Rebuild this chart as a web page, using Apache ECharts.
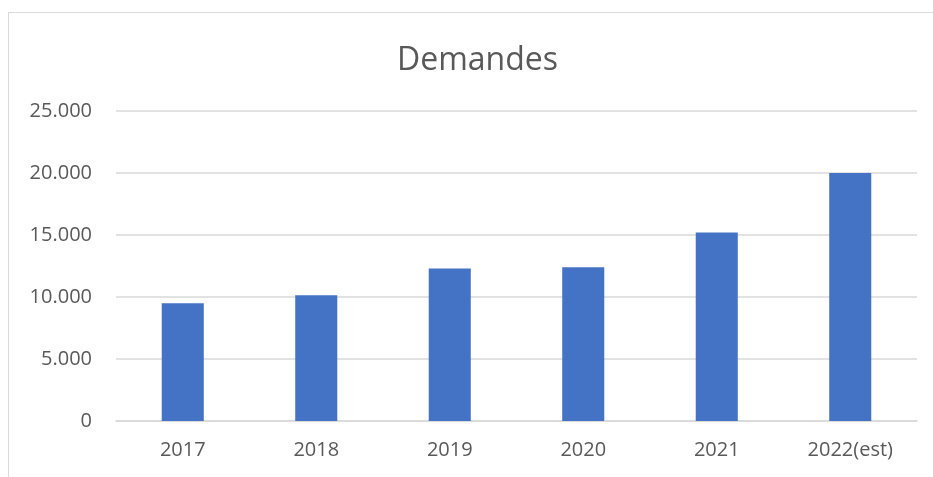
<!DOCTYPE html>
<html>
<head>
<meta charset="utf-8">
<script src="https://cdn.jsdelivr.net/npm/echarts@6/dist/echarts.min.js"></script>
<style>
  html, body { margin: 0; padding: 0; background: #fff; }
  #frame { position: absolute; left: 8px; top: 12px; width: 940px; height: 480px;
           border-left: 1px solid #d9d9d9; border-top: 1px solid #d9d9d9; }
  #container { position: absolute; left: 0; top: 0; width: 933px; height: 477px; }
</style>
</head>
<body>
<div id="frame"></div>
<div id="container"></div>
<script>
var years = ['2017', '2018', '2019', '2020', '2021', '2022(est)'];
var demandes = [9500, 10150, 12300, 12400, 15200, 20000];
var yMax = 25000, yStep = 5000;

function fmtThousands(v) {
  // séparateur de milliers : point
  return String(v).replace(/\B(?=(\d{3})+(?!\d))/g, '.');
}

var myChart = echarts.init(document.getElementById('container'));
var option = {
  animation: false,
  textStyle: { fontFamily: 'Open Sans' },
  title: {
    text: 'Demandes',
    left: 392,
    top: 40,
    textStyle: { fontFamily: 'Open Sans', fontSize: 32, fontWeight: 'normal', color: '#595959' }
  },
  grid: { left: 116, right: 16, top: 111, bottom: 56 },
  xAxis: {
    type: 'category',
    data: years,
    axisLine: { show: true, lineStyle: { color: '#d9d9d9', width: 1.5 } },
    axisTick: { show: false },
    axisLabel: { color: '#595959', fontSize: 20, margin: 19 }
  },
  yAxis: {
    type: 'value',
    min: 0,
    max: yMax,
    interval: yStep,
    axisLine: { show: false },
    axisTick: { show: false },
    splitLine: { lineStyle: { color: '#d9d9d9', width: 1.5 } },
    axisLabel: { color: '#595959', fontSize: 20, margin: 24, formatter: fmtThousands }
  },
  series: [{
    name: 'Demandes',
    type: 'bar',
    data: demandes,
    barWidth: '31.5%',
    itemStyle: { color: '#4472c4' }
  }]
};
myChart.setOption(option);
</script>
</body>
</html>
